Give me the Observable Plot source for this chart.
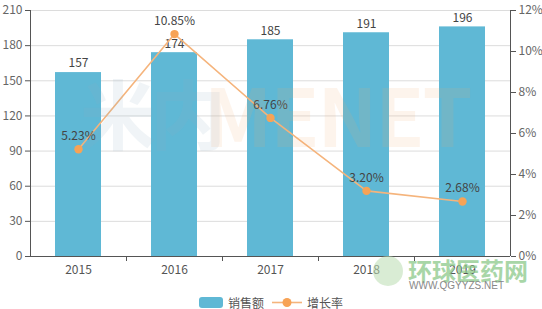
<!DOCTYPE html>
<html>
<head>
<meta charset="utf-8">
<script src="https://cdn.jsdelivr.net/npm/d3@7"></script>
<script src="https://cdn.jsdelivr.net/npm/@observablehq/plot@0.6"></script>
<style>
  html, body { margin: 0; padding: 0; background: #fff; }
  #wrap { position: relative; width: 542px; height: 309px; overflow: hidden; font-family: "Noto Sans CJK SC", "Noto Sans", sans-serif; }
  #chart { position: relative; z-index: 1; }
  .wm { position: absolute; pointer-events: none; white-space: nowrap; z-index: 2; }
  #legend { position: absolute; left: 0; top: 292px; width: 542px; height: 20px; display: flex; justify-content: center; align-items: center; gap: 4px; font-size: 12px; color: #555; }
  .item { display: flex; align-items: center; gap: 5px; }
</style>
</head>
<body>
<div id="wrap">
  <div id="chart"></div>
  <div class="wm" style="left:80px; top:56px; font-size:76px; font-weight:bold; color:#8fb0c4; opacity:0.13; letter-spacing:-6px;">米内</div>
  <div class="wm" style="left:204px; top:54px; font-size:80px; font-weight:bold; color:#f6a868; opacity:0.12; letter-spacing:-2px;">MENET</div>
  <div class="wm" style="left:373px; top:256px; width:30px; height:30px; border-radius:50%; background:#b9ddb0; opacity:0.55;"></div>
  <div class="wm" style="left:408px; top:252px; font-size:24px; font-weight:bold; color:#8cc98a; opacity:0.75;">环球医药网</div>
  <div class="wm" style="left:409px; top:280px; font-size:10px; color:#888; font-family:'Liberation Sans', sans-serif;">WWW.QGYYZS.NET</div>
  <div id="legend">
    <div class="item"><svg width="24" height="11"><rect x="0" y="0" width="24" height="11" rx="3" fill="#5fb8d5"/></svg><span>销售额</span></div>
    <div class="item" style="margin-left:4px"><svg width="30" height="11"><line x1="0" y1="5.5" x2="30" y2="5.5" stroke="#f5b47c" stroke-width="1.6"/><circle cx="15" cy="5.5" r="4.5" fill="#f7a356"/></svg><span>增长率</span></div>
  </div>
</div>
<script>
const years = ["2015", "2016", "2017", "2018", "2019"];
const sales = [157, 174, 185, 191, 196];
const rates = [5.23, 10.85, 6.76, 3.20, 2.68];
const leftTicks = [0, 30, 60, 90, 120, 150, 180, 210];
const rightTickPct = [0, 2, 4, 6, 8, 10, 12];

const yMax = 210, pctMax = 12;
const k = yMax / pctMax;
const data = years.map((year, i) => ({year, sales: sales[i], rate: rates[i]}));

const chart = Plot.plot({
  width: 542,
  height: 285,
  marginLeft: 30,
  marginRight: 32,
  marginTop: 10,
  marginBottom: 29,
  x: {domain: years, paddingInner: 0.52, paddingOuter: 0.26, label: null},
  y: {domain: [0, yMax], label: null},
  style: {fontFamily: "'Noto Sans CJK SC', 'Noto Sans', sans-serif", fontSize: "12px", color: "#666", background: "transparent"},
  marks: [
    Plot.gridY(leftTicks, {stroke: "#dcdcdc", strokeOpacity: 1}),
    Plot.barY(data, {x: "year", y: "sales", fill: "#5fb8d5"}),
    Plot.text(data, {x: "year", y: "sales", text: d => String(d.sales), dy: -9, fill: "#444", fontSize: 12}),
    Plot.line(data, {x: "year", y: d => d.rate * k, stroke: "#f5b47c", strokeWidth: 1.6}),
    Plot.dot(data, {x: "year", y: d => d.rate * k, r: 4.2, fill: "#f7a356"}),
    Plot.text(data, {x: "year", y: d => d.rate * k, text: d => d.rate.toFixed(2) + "%", dy: -13, fill: "#444", fontSize: 12}),
    Plot.ruleX([years[0]], {dx: -48, stroke: "#555"}),
    Plot.ruleX([years[years.length - 1]], {dx: 48, stroke: "#555"}),
    Plot.ruleY([0], {stroke: "#555"}),
    Plot.axisY(leftTicks, {anchor: "left", tickSize: 5, tickPadding: 3, label: null, stroke: "#555", fill: "#666"}),
    Plot.axisY(rightTickPct.map(v => v * k), {anchor: "right", tickSize: 5, tickPadding: 3, label: null, stroke: "#555", fill: "#666", tickFormat: d => Math.round(d / k) + "%"}),
    Plot.axisX(years.slice(0, -1), {dx: 48, tickSize: 5, tickFormat: () => "", label: null, stroke: "#555"}),
    Plot.axisX({tickSize: 0, tickPadding: 9, label: null, fill: "#555"})
  ]
});
document.getElementById("chart").appendChild(chart);
</script>
</body>
</html>
